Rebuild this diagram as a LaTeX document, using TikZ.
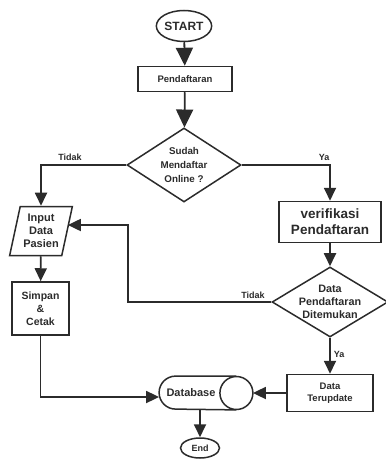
\documentclass[tikz,border=0pt]{standalone}
\usepackage{fontspec}
\setmainfont{Liberation Sans}
\usepackage{xcolor}
\usetikzlibrary{shapes.geometric, positioning, calc, arrows.meta}
\definecolor{ink}{HTML}{2B2B2B}

\begin{document}
\begin{tikzpicture}[x=1pt, y=-1pt, thick,
    flow/.style={draw=ink, text=ink, line width=1.5pt, align=center, inner sep=0pt},
    box/.style={flow, rectangle},
    term/.style={flow, ellipse},
    choice/.style={flow, diamond},
    dtext/.style={text=ink, align=center, inner sep=0pt},
    arr/.style={draw=ink, line width=1.8pt, -{Triangle[length=13pt,width=12pt]}},
    bigarr/.style={draw=ink, line width=1.8pt, -{Triangle[length=18pt,width=17pt]}},
    lbl/.style={text=ink, font=\bfseries\fontsize{9}{10}\selectfont, inner sep=1pt}]

    \useasboundingbox (0,0) rectangle (385,462);

    % Terminals
    \node[term, minimum width=52pt, minimum height=31pt, font=\bfseries\fontsize{12}{14}\selectfont] (start) at (184,26) {START};
    \node[term, minimum width=39pt, minimum height=20pt, font=\bfseries\fontsize{9}{10}\selectfont] (end) at (200,448) {End};

    % Process boxes
    \node[box, minimum width=94pt, minimum height=25pt, font=\bfseries\fontsize{9.5}{11}\selectfont] (daftar) at (185,79) {Pendaftaran};
    \node[box, minimum width=102pt, minimum height=41pt, font=\bfseries\fontsize{13.5}{16}\selectfont] (verif) at (330,222) {verifikasi\\Pendaftaran};
    \node[box, minimum width=57pt, minimum height=53pt, font=\bfseries\fontsize{10.5}{13}\selectfont] (simpan) at (40.5,308.5) {Simpan\\\&\\Cetak};
    \node[box, minimum width=86pt, minimum height=37pt, font=\bfseries\fontsize{9.5}{12.5}\selectfont] (upd) at (330,393) {Data\\Terupdate};

    % Input
    \node[flow, trapezium, trapezium left angle=75, trapezium right angle=105, trapezium stretches=true,
          minimum width=63pt, minimum height=49pt, font=\bfseries\fontsize{11}{13}\selectfont] (input) at (41,231) {Input\\Data\\Pasien};

    % Decisions
    \node[choice, minimum width=114pt, minimum height=74pt,
          label={[dtext, font=\bfseries\fontsize{9.8}{14}\selectfont]center:Sudah\\Mendaftar\\Online ?}] (cek) at (184,165) {};
    \node[choice, minimum width=116pt, minimum height=70pt,
          label={[dtext, font=\bfseries\fontsize{10.8}{13.3}\selectfont]center:Data\\Pendaftaran\\Ditemukan}] (temu) at (330,302) {};

    % Database (stored data)
    \node[minimum width=93pt, minimum height=33pt, inner sep=0pt] (db) at (206,393) {};
    \node[text=ink, font=\bfseries\fontsize{11}{13}\selectfont, inner sep=0pt] (dbtext) at (191,393) {Database};
    \draw[ink, line width=1.5pt] ($(db.north east)+(-16.5,0)$) -- ($(db.north west)+(16.5,0)$)
        arc[start angle=90, end angle=270, radius=16.5pt] -- ($(db.south east)+(-16.5,0)$);
    \draw[ink, line width=1.5pt] ($(db.east)+(-16.5,0)$) circle[radius=16.5pt];

    % Connectors
    \coordinate (back) at (128,302);
    \draw[bigarr] (start) -- (daftar);
    \draw[bigarr] (daftar) -- (cek);
    \draw[arr] (cek.west) -| (input.north);
    \draw[arr] (cek.east) -| (verif.north);
    \draw[arr] (verif) -- (temu);
    \draw[arr] (temu) -- (upd);
    \draw[arr] (temu.west) -- (back) |- ([yshift=6pt]input.east);
    \draw[arr] (input) -- (simpan);
    \draw[arr] (simpan.south) |- ([yshift=-4pt]db.west);
    \draw[arr] (upd.west) -- (db.east);
    \draw[arr] (end |- db.south) -- (end);

    % Labels
    \node[lbl] (tidakA) at (70,157) {Tidak};
    \node[lbl] (yaA) at (324,157) {Ya};
    \node[lbl] (tidakB) at (253,295) {Tidak};
    \node[lbl] (yaB) at (339,354) {Ya};

\end{tikzpicture}
\end{document}
